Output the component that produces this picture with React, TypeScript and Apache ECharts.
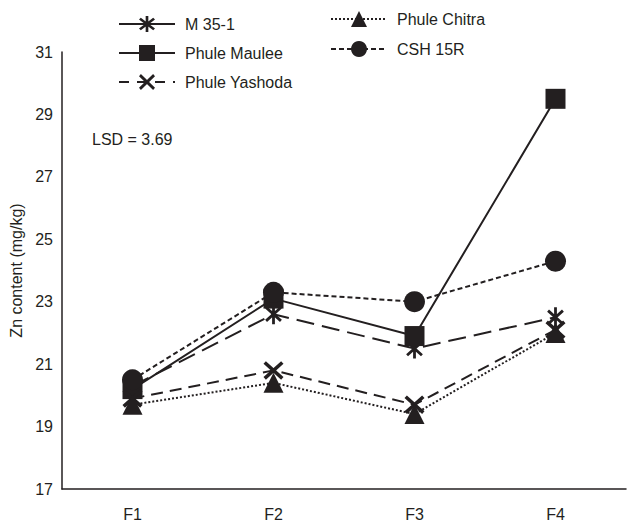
import React, { useEffect, useRef } from "react";
import * as echarts from "echarts";

const categories = ["F1", "F2", "F3", "F4"];
const m351 = [20.3, 22.6, 21.5, 22.5];
const phuleMaulee = [20.2, 23.1, 21.9, 29.5];
const phuleYashoda = [19.9, 20.8, 19.7, 22.1];
const phuleChitra = [19.7, 20.4, 19.4, 22.0];
const csh15r = [20.5, 23.3, 23.0, 24.3];
const yTicks = { min: 17, max: 31, interval: 2 };
const lsdText = "LSD = 3.69";

const INK = "#231f20";

function barsPath(anglesDeg: number[], halfLen: number, halfW: number) {
  const c = 10;
  let d = "";
  for (const a of anglesDeg) {
    const r = (a * Math.PI) / 180;
    const dx = Math.sin(r), dy = -Math.cos(r);
    const px = -dy, py = dx;
    const pts = [
      [c + dx * halfLen + px * halfW, c + dy * halfLen + py * halfW],
      [c + dx * halfLen - px * halfW, c + dy * halfLen - py * halfW],
      [c - dx * halfLen - px * halfW, c - dy * halfLen - py * halfW],
      [c - dx * halfLen + px * halfW, c - dy * halfLen + py * halfW],
    ];
    d += "M" + pts.map((p) => p[0].toFixed(2) + " " + p[1].toFixed(2)).join(" L") + " Z ";
  }
  return "path://" + d;
}

const asteriskSymbol = barsPath([0, 48, -48], 10, 1.4);
const xSymbol = barsPath([48, -48], 10, 1.5);

export default function App() {
  const ref = useRef<HTMLDivElement>(null);
  useEffect(() => {
    if (!ref.current) return;
    const chart = echarts.init(ref.current, null, { renderer: "svg" });
    const font = "'Liberation Sans', Arial, sans-serif";
    const mk = (name: string, data: number[], symbol: string, size: number, dash: any) => ({
      name,
      type: "line",
      data,
      symbol,
      symbolSize: size,
      symbolKeepAspect: true,
      lineStyle: { color: INK, width: 2, type: dash },
      itemStyle: { color: INK, borderWidth: 0 },
      z: 3,
    });
    chart.setOption({
      animation: false,
      backgroundColor: "#ffffff",
      textStyle: { fontFamily: font },
      grid: { left: 62, right: 4, top: 52, bottom: 37 },
      legend: [
        {
          orient: "vertical",
          left: 113,
          top: 11,
          itemWidth: 56,
          itemHeight: 20,
          itemGap: 13,
          textStyle: { fontSize: 16, color: INK, fontFamily: font, padding: [0, 0, 0, 5] },
          data: [
            { name: "M 35-1", lineStyle: { type: "solid" } },
            { name: "Phule Maulee" },
            { name: "Phule Yashoda", lineStyle: { type: [10, 8] } },
          ],
        },
        {
          orient: "vertical",
          left: 325,
          top: 6,
          itemWidth: 56,
          itemHeight: 20,
          itemGap: 14,
          textStyle: { fontSize: 16, color: INK, fontFamily: font, padding: [0, 0, 0, 5] },
          data: [{ name: "Phule Chitra" }, { name: "CSH 15R" }],
        },
      ],
      graphic: [
        {
          type: "text",
          left: 92,
          top: 131,
          style: { text: lsdText, fontSize: 16, fill: INK, fontFamily: font },
        },
      ],
      xAxis: {
        type: "category",
        data: categories,
        boundaryGap: true,
        axisLine: { lineStyle: { color: INK, width: 1.5 } },
        axisTick: { show: false },
        axisLabel: { fontSize: 16, color: INK, margin: 17 },
      },
      yAxis: {
        type: "value",
        min: yTicks.min,
        max: yTicks.max,
        interval: yTicks.interval,
        name: "Zn content (mg/kg)",
        nameLocation: "middle",
        nameGap: 36,
        nameTextStyle: { fontSize: 16, color: INK },
        axisLine: { show: true, lineStyle: { color: INK, width: 1.5 } },
        axisTick: { show: false },
        splitLine: { show: false },
        axisLabel: { fontSize: 16, color: INK, margin: 9 },
      },
      series: [
        mk("M 35-1", m351, asteriskSymbol, 20, [18, 8]),
        mk("Phule Maulee", phuleMaulee, "rect", 20, "solid"),
        mk("Phule Yashoda", phuleYashoda, xSymbol, 20, [12, 7]),
        mk("Phule Chitra", phuleChitra, "triangle", 20, [2, 2]),
        mk("CSH 15R", csh15r, "circle", 21, [5, 3]),
      ],
    });
    return () => chart.dispose();
  }, []);
  return (
    <div
      ref={ref}
      style={{ position: "absolute", left: 0, top: 0, width: 630, height: 526 }}
    />
  );
}
